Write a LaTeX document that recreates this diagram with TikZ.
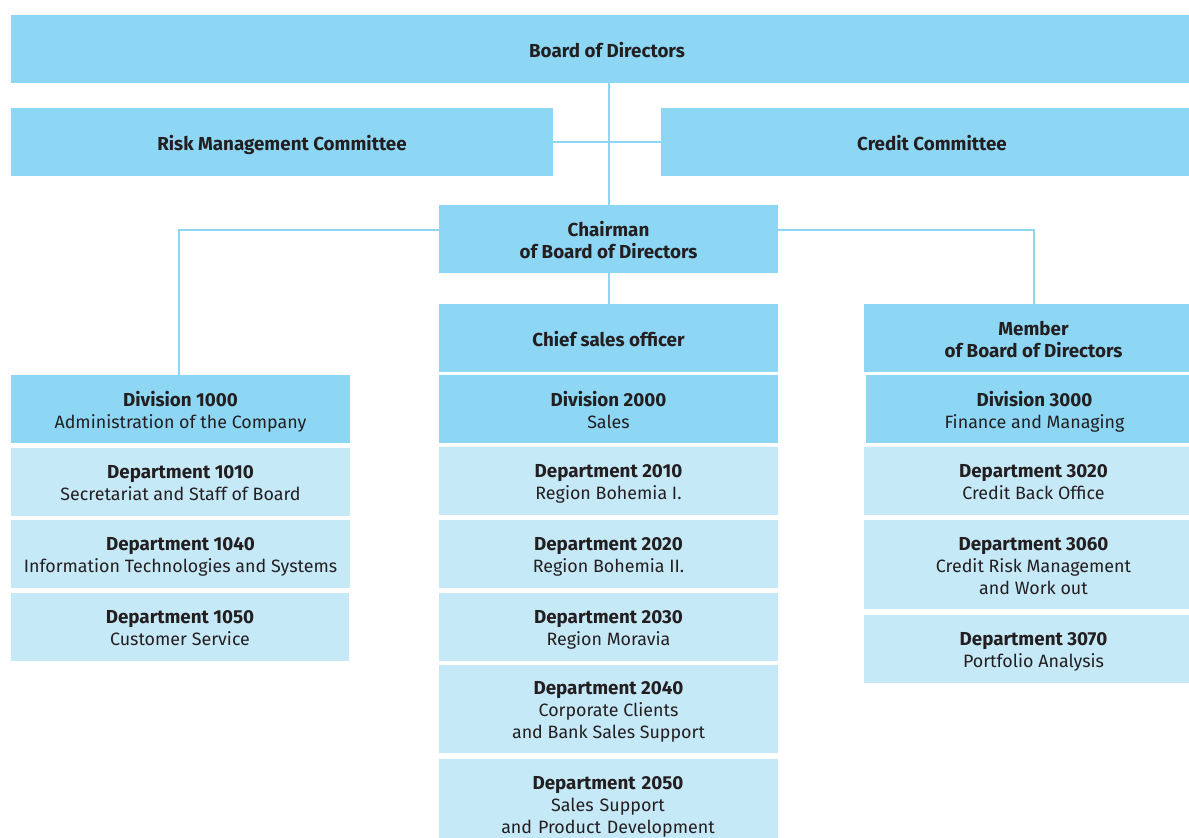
\documentclass[tikz,border=0pt]{standalone}
\usepackage{fontspec}
\setmainfont{Fira Sans}
\usetikzlibrary{backgrounds}
\definecolor{dk}{HTML}{8DD7F5}
\definecolor{lt}{HTML}{C6E9F8}
\definecolor{tx}{HTML}{231F20}
\newcommand\orgbox[7]{%
  \node[#2, anchor=north west, minimum width={(#5-#3)*0.75pt}, minimum height={(#6-#4)*0.75pt}] (#1) at (#3,#4) {};
  \node[base] (#1-t) at ([yshift=-2.4pt]#1.center) {#7\vphantom{y}};}
\newcommand\bt[1]{{\fontsize{14.1}{16.5}\selectfont\bfseries #1}}
\tikzset{
  base/.style={inner sep=0pt, outer sep=0pt, align=center, text=tx, font=\fontsize{13.4}{16.5}\selectfont},
  dkbox/.style={base, fill=dk},
  ltbox/.style={base, fill=lt},
  conn/.style={draw=dk, line width=1.5pt}
}
\begin{document}
\begin{tikzpicture}[x=0.75pt, y=-0.75pt]
\useasboundingbox (0,0) rectangle (1189,838);
\clip (0,0) rectangle (1189,838);
\orgbox{board}{dkbox}{11}{15}{1203}{83}{\bt{Board of Directors}}
\orgbox{risk}{dkbox}{11}{108}{553}{176}{\bt{Risk Management Committee}}
\orgbox{credit}{dkbox}{661}{108}{1203}{176}{\bt{Credit Committee}}
\orgbox{chair}{dkbox}{439}{205}{778}{273}{\bt{Chairman}\\\bt{of Board of Directors}}
\orgbox{chief}{dkbox}{439}{304}{778}{372}{\bt{Chief sales officer}}
\orgbox{member}{dkbox}{864}{304}{1203}{372}{\bt{Member}\\\bt{of Board of Directors}}
% left column
\orgbox{div1}{dkbox}{11}{375}{350}{443}{\bt{Division 1000}\\Administration of the Company}
\orgbox{d1010}{ltbox}{11}{448}{350}{516}{\bt{Department 1010}\\Secretariat and Staff of Board}
\orgbox{d1040}{ltbox}{11}{520}{350}{588}{\bt{Department 1040}\\Information Technologies and Systems}
\orgbox{d1050}{ltbox}{11}{593}{349}{661}{\bt{Department 1050}\\Customer Service}
% middle column
\orgbox{div2}{dkbox}{439}{375}{778}{443}{\bt{Division 2000}\\Sales}
\orgbox{d2010}{ltbox}{439}{447}{778}{515}{\bt{Department 2010}\\Region Bohemia I.}
\orgbox{d2020}{ltbox}{439}{520}{778}{588}{\bt{Department 2020}\\Region Bohemia II.}
\orgbox{d2030}{ltbox}{439}{593}{778}{661}{\bt{Department 2030}\\Region Moravia}
\orgbox{d2040}{ltbox}{439}{665}{778}{753}{\bt{Department 2040}\\Corporate Clients\\and Bank Sales Support}
\node[ltbox, anchor=north west, minimum width={339*0.75pt}, minimum height={79*0.75pt}] (d2050) at (439,759) {};
\node[base, anchor=north, text width={339*0.75pt}] (d2050-t) at (608,776) {\bt{Department 2050}\\Sales Support\\and Product Development};
% right column
\orgbox{div3}{dkbox}{866}{375}{1203}{443}{\bt{Division 3000}\\Finance and Managing}
\orgbox{d3020}{ltbox}{864}{447}{1203}{515}{\bt{Department 3020}\\Credit Back Office}
\orgbox{d3060}{ltbox}{864}{520}{1203}{609}{\bt{Department 3060}\\Credit Risk Management\\and Work out}
\orgbox{d3070}{ltbox}{864}{615}{1203}{683}{\bt{Department 3070}\\Portfolio Analysis}
\begin{scope}[on background layer]
\draw[conn] (board.south -| chair.north) -- (chair.north);
\draw[conn] (risk.east) -- (credit.west);
\draw[conn] ([yshift=6.75pt]chair.west) -| ([xshift=-1.1pt]div1.north);
\draw[conn] ([yshift=6.75pt]chair.east) -| (member.north);
\draw[conn] (chair.south) -- (chief.north);
\end{scope}
\end{tikzpicture}
\end{document}
